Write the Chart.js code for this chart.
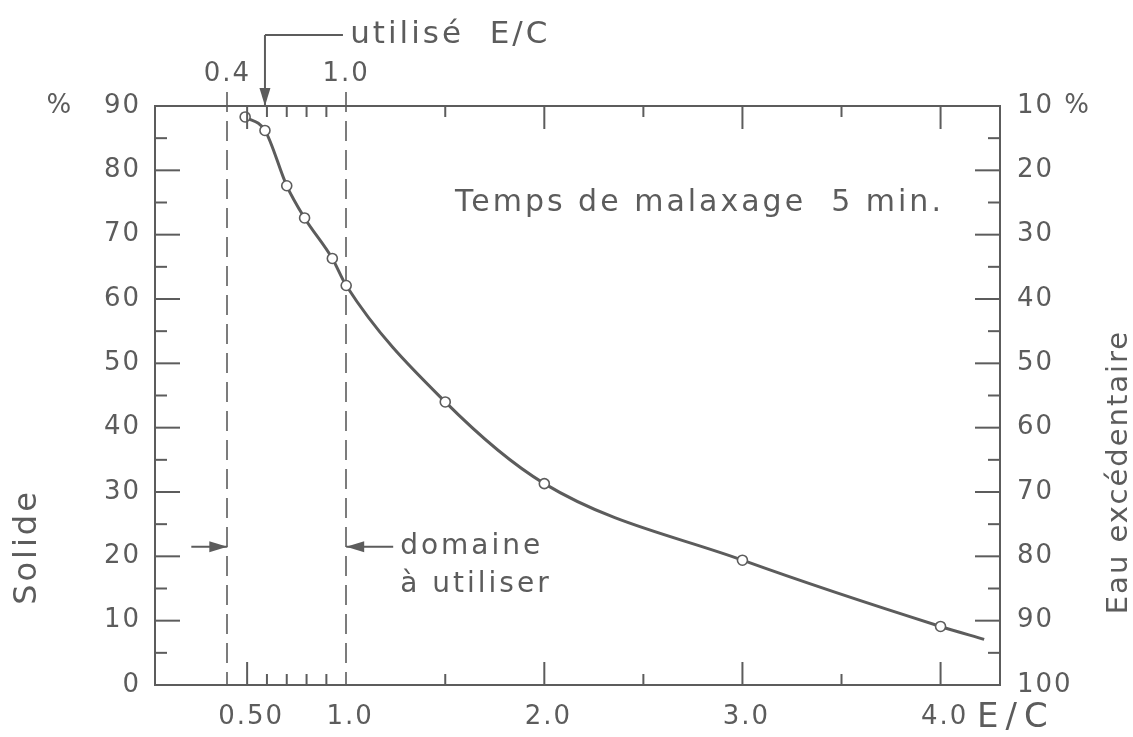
<!DOCTYPE html>
<html lang="fr">
<head>
<meta charset="utf-8">
<title>Solide et eau excédentaire selon E/C</title>
<script src="https://cdn.jsdelivr.net/npm/chart.js@4.4.1/dist/chart.umd.min.js"></script>
<style>
  html, body { margin: 0; padding: 0; background: #fff; }
  #cadre { width: 1133px; height: 737px; position: relative; }
</style>
</head>
<body>
<div id="cadre"><canvas id="courbe"></canvas></div>
<script>
// rapport eau/ciment et pourcentage de solide mesuré
const rapportEC = [0.49, 0.59, 0.70, 0.79, 0.93, 1.0, 1.5, 2.0, 3.0, 4.0, 4.22];
const solide    = [88.3, 86.2, 77.6, 72.6, 66.3, 62.1, 44.0, 31.3, 19.4, 9.1, 7.1];
// le dernier point ne fait que prolonger la courbe
const avecCercle = [true, true, true, true, true, true, true, true, true, true, false];

// limites du domaine à utiliser et E/C utilisé
const domaineEC = [0.4, 1.0];
const utiliseEC = 0.59;

const ticksBas = [0.5, 1.0, 2.0, 3.0, 4.0];
const etiquettesBas = ['0.50', '1.0', '2.0', '3.0', '4.0'];
const ticksHaut = [0.4, 1.0];
const etiquettesHaut = ['0.4', '1.0'];
const grandsTraitsX = [0.5, 2.0, 3.0, 4.0];
const petitsTraitsX = [0.6, 0.7, 0.8, 0.9, 1.5, 2.5, 3.5];
const ticksSolide = [0, 10, 20, 30, 40, 50, 60, 70, 80, 90];
const ticksEau = [10, 20, 30, 40, 50, 60, 70, 80, 90, 100];
const petitsTraitsY = [5, 15, 25, 35, 45, 55, 65, 75, 85];

const GRIS = '#5c5c5c';
const POLICE = '"DejaVu Sans", sans-serif';
const fonte = { family: POLICE, size: 26 };

function trait(ctx, x1, y1, x2, y2) {
  ctx.beginPath();
  ctx.moveTo(x1, y1);
  ctx.lineTo(x2, y2);
  ctx.stroke();
}

// flèche pleine, pointe en (x2, y2)
function fleche(ctx, x1, y1, x2, y2) {
  trait(ctx, x1, y1, x2, y2);
  const ang = Math.atan2(y2 - y1, x2 - x1);
  const L = 18, W = 5.5;
  ctx.beginPath();
  ctx.moveTo(x2, y2);
  ctx.lineTo(x2 - L * Math.cos(ang) - W * Math.sin(ang), y2 - L * Math.sin(ang) + W * Math.cos(ang));
  ctx.lineTo(x2 - L * Math.cos(ang) + W * Math.sin(ang), y2 - L * Math.sin(ang) - W * Math.cos(ang));
  ctx.closePath();
  ctx.fill();
}

function texte(ctx, s, x, y, taille, espace, align) {
  ctx.font = taille + 'px ' + POLICE;
  ctx.letterSpacing = espace + 'px';
  ctx.textAlign = align || 'left';
  ctx.textBaseline = 'middle';
  ctx.fillText(s, x, y);
}

const dessins = {
  id: 'dessins',
  beforeDraw(chart) {
    chart.ctx.letterSpacing = '2px';
  },
  beforeDatasetsDraw(chart) {
    const { ctx, chartArea: a, scales: { x } } = chart;
    ctx.save();
    ctx.strokeStyle = GRIS;
    ctx.lineWidth = 1.6;
    ctx.setLineDash([20, 9]);
    domaineEC.forEach(v => {
      const px = Math.round(x.getPixelForValue(v));
      trait(ctx, px, a.top - 14, px, a.bottom);
    });
    ctx.restore();
  },
  afterDraw(chart) {
    const { ctx, chartArea: a, scales: { x, y } } = chart;
    ctx.save();
    ctx.strokeStyle = GRIS;
    ctx.fillStyle = GRIS;
    ctx.lineWidth = 2;

    // traits de graduation vers l'intérieur
    grandsTraitsX.forEach(v => {
      const px = x.getPixelForValue(v);
      trait(ctx, px, a.bottom, px, a.bottom - 23);
      trait(ctx, px, a.top, px, a.top + 23);
    });
    petitsTraitsX.forEach(v => {
      const px = x.getPixelForValue(v);
      trait(ctx, px, a.bottom, px, a.bottom - 11);
      trait(ctx, px, a.top, px, a.top + 11);
    });
    ticksSolide.slice(1, -1).forEach(v => {
      const py = y.getPixelForValue(v);
      trait(ctx, a.left, py, a.left + 25, py);
      trait(ctx, a.right, py, a.right - 25, py);
    });
    petitsTraitsY.forEach(v => {
      const py = y.getPixelForValue(v);
      trait(ctx, a.left, py, a.left + 12, py);
      trait(ctx, a.right, py, a.right - 12, py);
    });

    // E/C utilisé
    const xu = x.getPixelForValue(utiliseEC);
    const yu = 35;
    trait(ctx, xu, yu, xu + 78, yu);
    fleche(ctx, xu, yu, xu, a.top);
    texte(ctx, 'utilisé  E/C', x.getPixelForValue(1.0) + 4, yu, 31, 3);

    // domaine à utiliser
    const yd = y.getPixelForValue(21.5);
    const x04 = x.getPixelForValue(domaineEC[0]);
    const x10 = x.getPixelForValue(domaineEC[1]);
    fleche(ctx, x04 - 36, yd, x04, yd);
    fleche(ctx, x10 + 47, yd, x10, yd);
    texte(ctx, 'domaine', x10 + 54, yd, 28, 3);
    texte(ctx, 'à utiliser', x10 + 54, yd + 38, 28, 3);

    texte(ctx, 'Temps de malaxage  5 min.', 455, 203, 30, 3);
    texte(ctx, 'E/C', 977, 718, 34, 7);

    // titres des axes verticaux
    ctx.save();
    ctx.translate(28, 547);
    ctx.rotate(-Math.PI / 2);
    texte(ctx, 'Solide', 0, 0, 32, 3, 'center');
    ctx.restore();
    ctx.save();
    ctx.translate(1119, 472);
    ctx.rotate(-Math.PI / 2);
    texte(ctx, 'Eau excédentaire', 0, 0, 29, 2, 'center');
    ctx.restore();

    ctx.restore();
  }
};

const axeBase = {
  type: 'linear',
  grid: { display: false, drawTicks: false },
  border: { display: true, color: GRIS, width: 2 },
  ticks: { color: GRIS, font: fonte, autoSkip: false, maxRotation: 0 }
};

new Chart(document.getElementById('courbe'), {
  type: 'scatter',
  data: {
    datasets: [{
      data: rapportEC.map((v, i) => ({ x: v, y: solide[i] })),
      showLine: true,
      borderColor: GRIS,
      borderWidth: 3,
      cubicInterpolationMode: 'monotone',
      pointRadius: c => avecCercle[c.dataIndex] ? 5 : 0,
      pointBackgroundColor: '#fff',
      pointBorderColor: GRIS,
      pointBorderWidth: 1.6,
      xAxisID: 'x',
      yAxisID: 'y'
    }]
  },
  options: {
    responsive: true,
    maintainAspectRatio: false,
    animation: false,
    layout: { padding: 0 },
    plugins: { legend: { display: false }, tooltip: { enabled: false } },
    scales: {
      x: {
        ...axeBase,
        position: 'bottom',
        min: 0.035, max: 4.3,
        afterBuildTicks: s => { s.ticks = ticksBas.map(v => ({ value: v })); },
        ticks: { ...axeBase.ticks, padding: 17, labelOffset: 4, callback: (v, i) => etiquettesBas[i] },
        afterFit: s => { s.height = 52; }
      },
      x2: {
        ...axeBase,
        position: 'top',
        min: 0.035, max: 4.3,
        afterBuildTicks: s => { s.ticks = ticksHaut.map(v => ({ value: v })); },
        ticks: { ...axeBase.ticks, padding: 16, callback: (v, i) => etiquettesHaut[i] },
        afterFit: s => { s.height = 106; }
      },
      y: {
        ...axeBase,
        position: 'left',
        min: 0, max: 90,
        afterBuildTicks: s => { s.ticks = ticksSolide.map(v => ({ value: v })); },
        ticks: { ...axeBase.ticks, padding: 14, callback: v => v === 90 ? '%   90' : String(v) },
        afterFit: s => { s.width = 155; }
      },
      y2: {
        ...axeBase,
        position: 'right',
        min: 10, max: 100,
        reverse: true,
        afterBuildTicks: s => { s.ticks = ticksEau.map(v => ({ value: v })); },
        ticks: { ...axeBase.ticks, padding: 17, callback: v => v === 10 ? '10 %' : String(v) },
        afterFit: s => { s.width = 133; }
      }
    }
  },
  plugins: [dessins]
});
</script>
</body>
</html>
